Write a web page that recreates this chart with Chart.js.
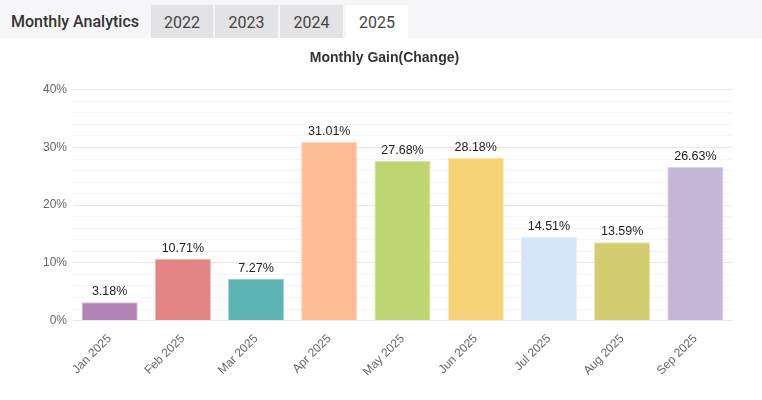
<!DOCTYPE html>
<html>
<head>
<meta charset="utf-8">
<script src="https://cdn.jsdelivr.net/npm/chart.js@4/dist/chart.umd.min.js"></script>
<style>
  html, body { margin: 0; padding: 0; background: #fff; }
  body { width: 762px; height: 400px; overflow: hidden; font-family: Roboto, "Liberation Sans", sans-serif; }
  .bar { height: 38px; background: #f6f6f8; position: relative; }
  .bar .name { position: absolute; left: 11px; top: 12px; font-size: 16px; font-weight: 500; color: #333; }
  .tab { position: absolute; top: 5px; height: 33px; line-height: 35px; text-align: center; background: #e3e3e5; color: #444; font-size: 16px; }
  .tab.on { background: #fff; }
  #wrap { position: absolute; left: 0; top: 38px; width: 762px; height: 362px; }
</style>
</head>
<body>
<div class="bar">
  <span class="name">Monthly Analytics</span>
  <div class="tab" style="left:151px;width:62px">2022</div>
  <div class="tab" style="left:215px;width:63px">2023</div>
  <div class="tab" style="left:280px;width:63px">2024</div>
  <div class="tab on" style="left:346px;width:62px">2025</div>
</div>
<div id="wrap"><canvas id="chart"></canvas></div>
<script>
const months = ['Jan 2025', 'Feb 2025', 'Mar 2025', 'Apr 2025', 'May 2025',
	'Jun 2025', 'Jul 2025', 'Aug 2025', 'Sep 2025']
const gains = [3.18, 10.71, 7.27, 31.01, 27.68, 28.18, 14.51, 13.59, 26.63]
const barColors = ['#b283b7', '#e38585', '#5eb3b5', '#ffbc94', '#bed672',
	'#f6d376', '#d3e6fa', '#d2cd70', '#c5b6d8']
const borderColors = ['#d8bfdb', '#f0c0c0', '#a9d6d7', '#ffdcc7', '#dbe9b0',
	'#fae7b0', '#e6f0fc', '#e6e3ae', '#ddd3ea']

// value labels above each bar
const valueLabels = {
	id: 'valueLabels',
	afterDatasetsDraw(chart) {
		const ctx = chart.ctx
		const meta = chart.getDatasetMeta(0)
		ctx.save()
		ctx.font = '12.5px "Liberation Sans", Arial, sans-serif'
		ctx.fillStyle = '#222'
		ctx.textAlign = 'center'
		ctx.textBaseline = 'bottom'
		meta.data.forEach((bar, i) => {
			ctx.fillText(gains[i].toFixed(2) + '%', bar.x, bar.y - 4)
		})
		ctx.restore()
	}
}

new Chart(document.getElementById('chart'), {
	type: 'bar',
	data: {
		labels: months,
		datasets: [{
			data: gains,
			backgroundColor: barColors,
			borderColor: borderColors,
			borderWidth: 1,
			barPercentage: 0.96,
			categoryPercentage: 0.8
		}]
	},
	options: {
		responsive: true,
		maintainAspectRatio: false,
		animation: false,
		layout: { padding: { left: 37, right: 30, top: 0, bottom: 18 } },
		plugins: {
			legend: { display: false },
			tooltip: { enabled: false },
			title: {
				display: true,
				text: 'Monthly Gain(Change)',
				color: '#333',
				font: { family: '"Liberation Sans", Arial, sans-serif', size: 14, weight: 'bold' },
				padding: { top: 12, bottom: 23 }
			}
		},
		scales: {
			x: {
				grid: { display: false },
				border: { display: false },
				ticks: {
					color: '#666',
					minRotation: 45,
					maxRotation: 45,
					font: { family: '"Liberation Sans", Arial, sans-serif', size: 12 }
				}
			},
			y: {
				min: 0,
				max: 40,
				border: { display: false },
				grid: {
					drawTicks: false,
					color: c => c.tick.value % 10 === 0 ? '#e8e8ea' : '#f5f5f7'
				},
				ticks: {
					stepSize: 2,
					padding: 6,
					autoSkip: false,
					color: '#666',
					font: { family: '"Liberation Sans", Arial, sans-serif', size: 12 },
					callback: v => v % 10 === 0 ? v + '%' : ''
				}
			}
		}
	},
	plugins: [valueLabels]
})
</script>
</body>
</html>
